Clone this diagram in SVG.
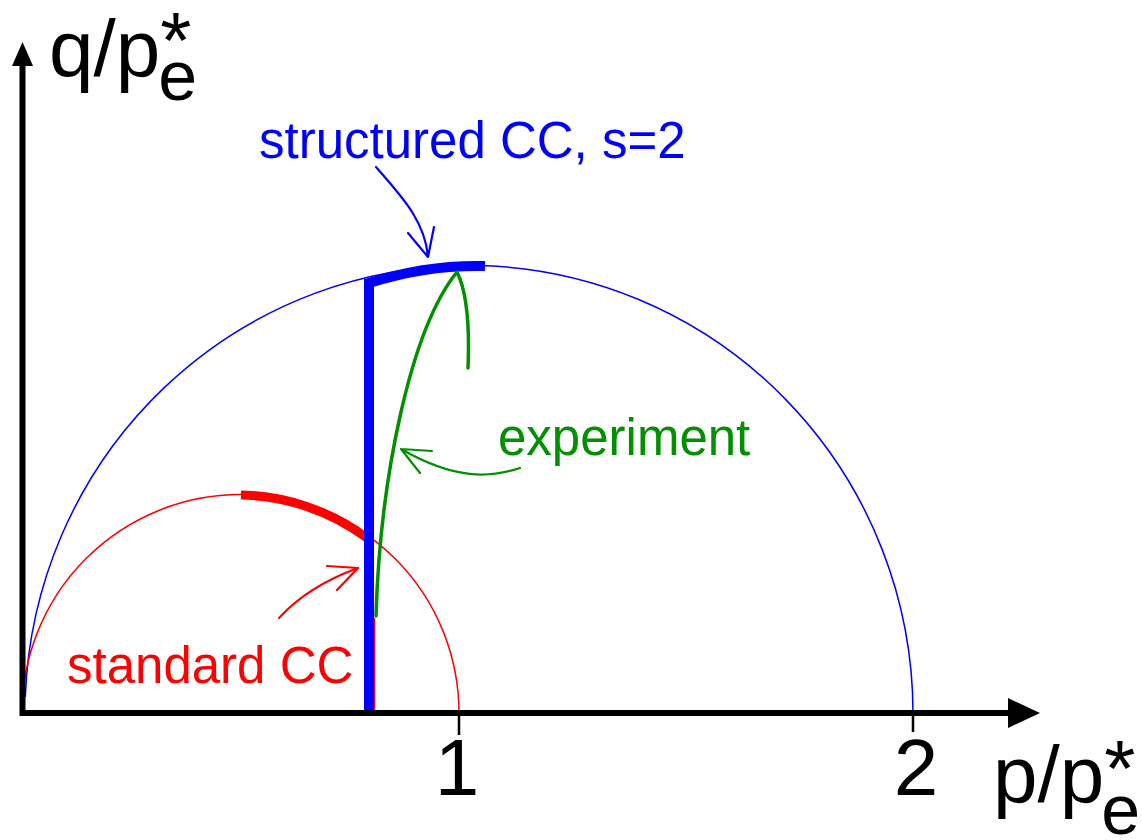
<svg xmlns="http://www.w3.org/2000/svg" width="1142" height="840" viewBox="0 0 1142 840">
<style>
text{font-family:"Liberation Sans",Arial,sans-serif}
.ax{font-size:80px;fill:#000}
.lab{font-size:51px}
.thin{fill:none;stroke-width:1.5}
.ann{fill:none;stroke-width:2.2;stroke-linecap:round;stroke-linejoin:round}
</style>
<rect width="1142" height="840" fill="#fff"/>
<g id="curves">
<path class="thin" stroke="#0000ff" d="M913 713 A444 448 0 0 0 25.3 697"/>
<path class="thin" stroke="#ff0000" d="M459 713 A218.5 218.5 0 0 0 22 713"/>
<path fill="none" stroke="#ff0000" stroke-width="9" d="M241 495 A218.5 218.5 0 0 1 367 538"/>
<path fill="none" stroke="#0000ff" stroke-width="10" stroke-linejoin="miter" d="M369 716 L369 283 Q427 264.5 485 266"/>
<path fill="none" stroke="#009000" stroke-width="3.5" stroke-linecap="round" stroke-linejoin="round" d="M376 616 C380 480 410 330 457 272 C466 290 470 320 468 368"/>
<path class="thin" stroke="#ff0000" d="M374.5 618 V713"/>
</g>
<g id="axes">
<path d="M19.5 713 H1010 M22.5 716 V62" stroke="#000" stroke-width="6" fill="none"/>
<polygon points="1008,698 1040,713 1008,728" fill="#000"/>
<polygon points="12,66 22.5,42 33,66" fill="#000"/>
<path d="M459 713 V735 M913 713 V732" stroke="#000" stroke-width="2.5"/>
<text class="ax" x="457" y="795" text-anchor="middle" font-size="72">1</text>
<text class="ax" x="916" y="795" text-anchor="middle" font-size="72">2</text>
</g>
<g id="axis-q">
<text class="ax" x="49" y="76">q/p<tspan font-size="70" dx="-2" dy="24">e</tspan><tspan dx="-37" dy="-32">*</tspan></text>
</g>
<g id="axis-p">
<text class="ax" x="993" y="802">p/p<tspan font-size="70" dx="-3" dy="32">e</tspan><tspan dx="-36" dy="-38">*</tspan></text>
</g>
<g id="connectors">
<path class="ann" stroke="#0000ff" d="M376 167 C400 195 425 220 428 257 M408 233 L428 257 L434 227"/>
<path class="ann" stroke="#ff0000" stroke-width="2.5" d="M279 618 C300 595 325 580 358 568 M327 566 L358 568 L337 590"/>
<path class="ann" stroke="#009000" d="M520 468 C490 478 455 480 401 449 M432 451 L401 449 L420 473"/>
</g>
<g id="label-structured"><text class="lab" x="259" y="158" fill="#0000ff">structured CC, s=2</text></g>
<g id="label-experiment"><text class="lab" x="498" y="455" fill="#009000">experiment</text></g>
<g id="label-standard"><text class="lab" x="67" y="683" fill="#ff0000">standard CC</text></g>
</svg>
